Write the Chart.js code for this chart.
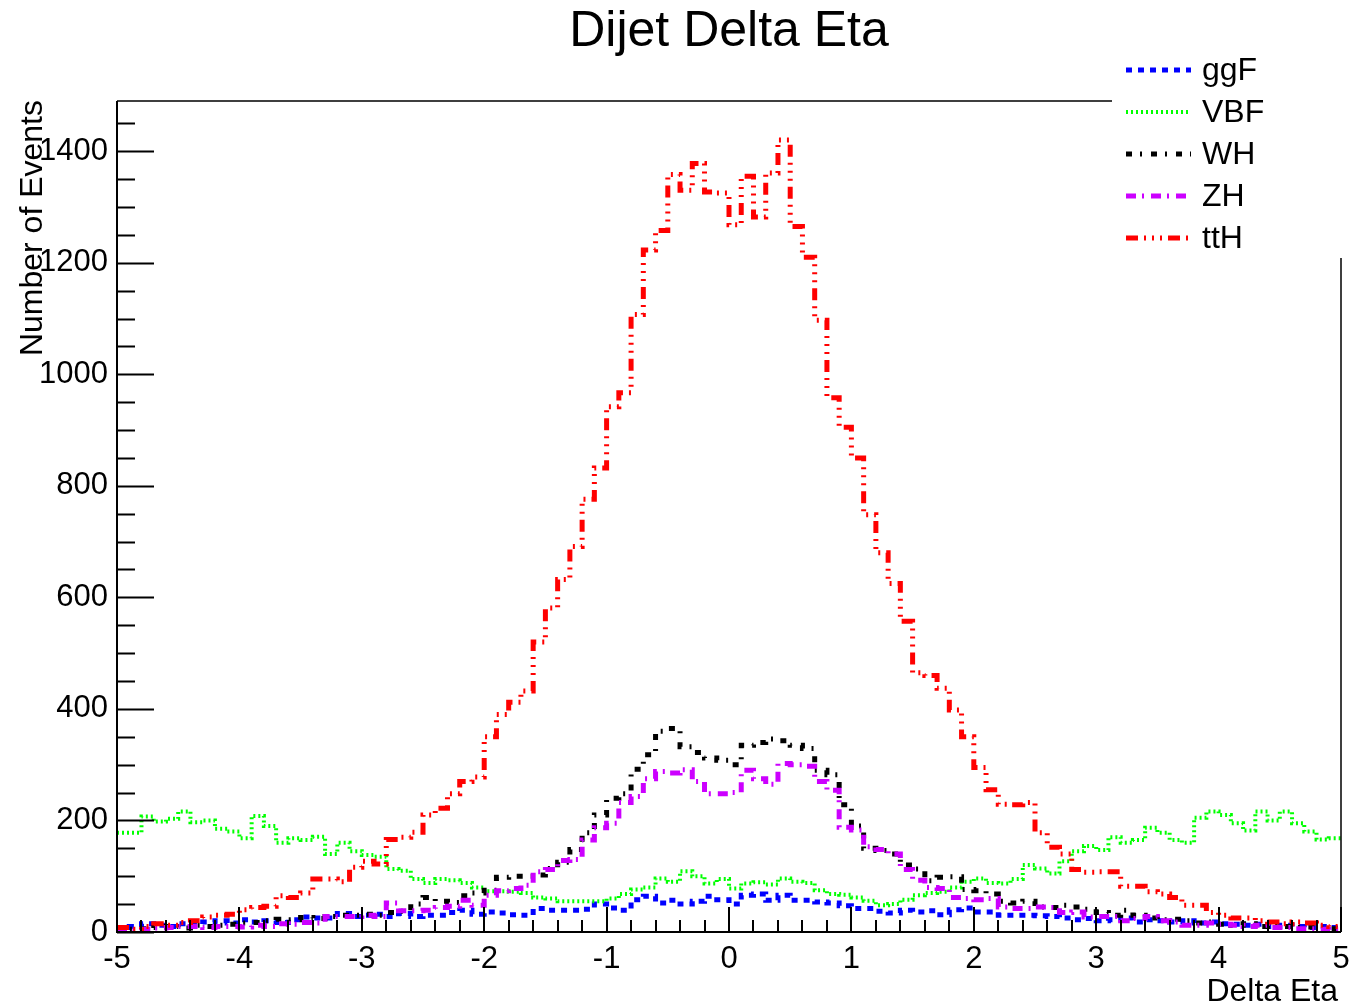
<!DOCTYPE html>
<html>
<head>
<meta charset="utf-8">
<title>Dijet Delta Eta</title>
<script src="https://cdn.jsdelivr.net/npm/chart.js@4.4.1/dist/chart.umd.min.js"></script>
<style>
  html, body { margin: 0; padding: 0; background: #ffffff; }
  #wrap { width: 1355px; height: 1007px; position: relative; }
</style>
</head>
<body>
<div id="wrap"><canvas id="c" width="1355" height="1007"></canvas></div>
<script>
// Histogram binning: 100 bins of Delta Eta from -5 to 5
const nBins = 100;
const xMin = -5;
const xMax = 5;

// Series names as shown in the legend
const seriesNames = ['ggF', 'VBF', 'WH', 'ZH', 'ttH'];

// Bin contents (Number of Events), one value per bin from left to right
const ggF = [
  8, 10, 15, 12, 10, 15, 14, 18, 20, 16, 22, 18, 20, 17, 22, 27, 25, 25, 33, 28, 30, 32, 28, 33,
  28, 30, 30, 35, 39, 32, 36, 34, 31, 30, 42, 39, 39, 39, 41, 50, 43, 39, 58, 64, 52, 57, 50, 55, 64, 58,
  50, 66, 68, 57, 66, 57, 57, 54, 52, 47, 42, 42, 37, 34, 39, 36, 38, 31, 40, 43, 36, 36, 30, 30, 30, 29,
  28, 25, 22, 24, 20, 22, 25, 18, 22, 20, 18, 20, 16, 18, 15, 14, 12, 14, 10, 12, 10, 8, 10, 8
];
const VBF = [
  178, 178, 207, 198, 203, 216, 197, 200, 185, 180, 168, 208, 190, 160, 168, 165, 171, 140, 160, 145, 138, 135, 113, 110,
  95, 88, 95, 93, 88, 80, 73, 73, 72, 70, 62, 60, 55, 55, 55, 55, 60, 68, 76, 80, 96, 90, 109, 100, 87, 95,
  78, 87, 89, 85, 96, 90, 88, 75, 68, 67, 62, 56, 48, 50, 58, 66, 70, 72, 80, 90, 96, 88, 87, 95, 120, 114,
  105, 127, 145, 154, 147, 170, 160, 165, 187, 178, 165, 160, 205, 216, 210, 195, 182, 216, 200, 216, 195, 180, 166, 168
];
const WH = [
  3, 5, 6, 8, 10, 7, 12, 10, 12, 14, 16, 17, 20, 23, 22, 26, 24, 28, 30, 30, 32, 30, 35, 37,
  50, 62, 55, 53, 65, 70, 75, 98, 100, 100, 102, 114, 125, 148, 178, 210, 240, 248, 292, 318, 360, 365, 332, 322, 312, 308,
  300, 335, 340, 346, 343, 335, 329, 290, 282, 228, 190, 150, 146, 140, 120, 113, 92, 98, 99, 76, 74, 68, 55, 52, 55, 45,
  44, 48, 45, 41, 35, 30, 39, 30, 25, 22, 23, 20, 16, 18, 14, 12, 15, 10, 12, 10, 8, 9, 7, 6
];
const ZH = [
  2, 3, 5, 7, 8, 10, 10, 8, 10, 10, 9, 12, 10, 15, 14, 17, 16, 28, 28, 28, 30, 28, 52, 38,
  38, 39, 44, 46, 57, 48, 66, 74, 78, 84, 108, 112, 128, 130, 165, 187, 195, 232, 243, 275, 288, 285, 291, 270, 248, 248,
  250, 290, 275, 265, 302, 300, 297, 270, 254, 188, 183, 153, 148, 140, 112, 93, 80, 78, 62, 60, 58, 60, 45, 42, 42, 45,
  44, 35, 36, 27, 28, 28, 20, 24, 28, 20, 18, 12, 12, 16, 14, 12, 10, 12, 8, 8, 6, 6, 5, 4
];
const ttH = [
  8, 5, 10, 15, 12, 17, 20, 27, 30, 32,
  40, 44, 46, 65, 62, 70, 95, 95, 90, 116,
  127, 122, 166, 170, 179, 210, 222, 248, 270, 278,
  350, 390, 412, 432, 520, 581, 632, 691, 776, 832,
  942, 967, 1107, 1223, 1258, 1358, 1330, 1378, 1327, 1325,
  1268, 1355, 1282, 1361, 1420, 1265, 1210, 1097, 958, 905,
  850, 748, 680, 625, 557, 465, 460, 437, 398, 350,
  295, 255, 229, 228, 232, 178, 152, 140, 112, 107,
  108, 108, 82, 82, 72, 68, 62, 48, 48, 35,
  30, 25, 25, 20, 18, 15, 18, 16, 12, 10
];

// Axis ranges and tick labels
const yMax = 1490;
const yTickLabels = [0, 200, 400, 600, 800, 1000, 1200, 1400];
const xTickLabels = [-5, -4, -3, -2, -1, 0, 1, 2, 3, 4, 5];

// Turn bin contents into step points at the bin low edges, closing at the upper edge
function histPoints(values) {
  const w = (xMax - xMin) / nBins;
  const pts = values.map((v, i) => ({ x: xMin + i * w, y: v }));
  pts.push({ x: xMax, y: values[values.length - 1] });
  return pts;
}

const FONT = '"Liberation Sans", Arial, Helvetica, sans-serif';

const styles = {
  ggF: { color: '#0000ff', dash: [6, 6], width: 5 },
  VBF: { color: '#00ff00', dash: [2, 3], width: 4 },
  WH:  { color: '#000000', dash: [6, 8, 2, 9], width: 5 },
  ZH:  { color: '#cc00ff', dash: [10, 6, 2, 7], width: 5 },
  ttH: { color: '#ff0000', dash: [12, 6, 2, 6, 2, 6, 2, 6], width: 5 }
};
const seriesValues = { ggF, VBF, WH, ZH, ttH };
const drawOrder = { ggF: 4, VBF: 3, WH: 2, ZH: 1, ttH: 0 };

const datasets = seriesNames.map(name => ({
  label: name,
  data: histPoints(seriesValues[name]),
  // each bin value is held from its low edge to the next edge
  stepped: 'before',
  borderColor: styles[name].color,
  backgroundColor: styles[name].color,
  borderWidth: styles[name].width,
  borderDash: styles[name].dash,
  borderCapStyle: 'butt',
  borderJoinStyle: 'miter',
  pointRadius: 0,
  pointHoverRadius: 0,
  fill: false,
  tension: 0,
  order: drawOrder[name]
}));

// Frame, inward ticks, legend box and titles in the ROOT canvas style
const rootStyle = {
  id: 'rootStyle',
  afterDraw(chart) {
    const ctx = chart.ctx;
    const xs = chart.scales.x, ys = chart.scales.y;
    const area = chart.chartArea;
    const L = area.left, R = area.right, T = area.top, B = area.bottom;
    const legend = { left: 1112, top: 50, right: 1355, bottom: 258 };

    ctx.save();
    ctx.strokeStyle = '#000';
    ctx.lineCap = 'butt';

    // frame
    ctx.lineWidth = 2;
    ctx.beginPath();
    ctx.moveTo(L, T); ctx.lineTo(L, B); ctx.lineTo(R, B);
    ctx.stroke();
    ctx.lineWidth = 1.5;
    ctx.beginPath();
    ctx.moveTo(L, T); ctx.lineTo(legend.left, T);
    ctx.moveTo(R, legend.bottom); ctx.lineTo(R, B);
    ctx.stroke();

    // y ticks: major every 200, minor every 50
    ctx.lineWidth = 2;
    ctx.beginPath();
    for (let v = 0; v <= yMax; v += 50) {
      const py = Math.round(ys.getPixelForValue(v)) + 0.5;
      const len = (v % 200 === 0) ? 37 : 18;
      ctx.moveTo(L, py); ctx.lineTo(L + len, py);
    }
    ctx.stroke();

    // x ticks: major every 1, minor every 0.2
    ctx.beginPath();
    for (let k = 0; k <= 50; k++) {
      const v = xMin + k * 0.2;
      const px = Math.round(xs.getPixelForValue(v));
      const len = (k % 5 === 0) ? 25 : 12;
      ctx.moveTo(px, B); ctx.lineTo(px, B - len);
    }
    ctx.stroke();

    // legend
    ctx.fillStyle = '#fff';
    ctx.fillRect(legend.left, legend.top, legend.right - legend.left, legend.bottom - legend.top);
    const rowY = [70, 112, 154, 196, 238];
    ctx.font = '32px ' + FONT;
    ctx.textBaseline = 'middle';
    ctx.textAlign = 'left';
    chart.data.datasets.forEach((ds, i) => {
      const y = rowY[i];
      ctx.save();
      ctx.strokeStyle = ds.borderColor;
      ctx.lineWidth = ds.borderWidth;
      ctx.setLineDash(ds.borderDash);
      ctx.beginPath();
      ctx.moveTo(1126, y); ctx.lineTo(1191, y);
      ctx.stroke();
      ctx.restore();
      ctx.fillStyle = '#000';
      ctx.fillText(ds.label, 1202, y + 1);
    });

    // titles
    ctx.fillStyle = '#000';
    ctx.textBaseline = 'alphabetic';
    ctx.textAlign = 'center';
    ctx.font = '50px ' + FONT;
    ctx.fillText('Dijet Delta Eta', (L + R) / 2, 46);

    ctx.font = '32px ' + FONT;
    ctx.textAlign = 'right';
    ctx.fillText('Delta Eta', 1338, 1001);

    ctx.save();
    ctx.translate(42, 100);
    ctx.rotate(-Math.PI / 2);
    ctx.textAlign = 'right';
    ctx.fillText('Number of Events', 0, 0);
    ctx.restore();

    ctx.restore();
  }
};

new Chart(document.getElementById('c'), {
  type: 'line',
  data: { datasets },
  options: {
    responsive: false,
    animation: false,
    devicePixelRatio: 1,
    layout: { padding: { top: 101, right: 14, left: 0, bottom: 0 } },
    plugins: { legend: { display: false }, tooltip: { enabled: false }, title: { display: false } },
    scales: {
      x: {
        type: 'linear',
        min: xMin,
        max: xMax,
        grid: { display: false, drawTicks: false },
        border: { display: false },
        afterFit(scale) { scale.height = 75; scale.paddingLeft = 0; scale.paddingRight = 0; },
        afterBuildTicks(scale) { scale.ticks = xTickLabels.map(v => ({ value: v })); },
        ticks: {
          color: '#000',
          font: { family: FONT, size: 31 },
          padding: 9,
          maxRotation: 0,
          autoSkip: false,
          callback: v => String(v)
        }
      },
      y: {
        type: 'linear',
        min: 0,
        max: yMax,
        grid: { display: false, drawTicks: false },
        border: { display: false },
        afterFit(scale) { scale.width = 117; scale.paddingTop = 0; scale.paddingBottom = 0; },
        afterBuildTicks(scale) { scale.ticks = yTickLabels.map(v => ({ value: v })); },
        ticks: {
          color: '#000',
          font: { family: FONT, size: 31 },
          padding: 9,
          callback: v => String(v)
        }
      }
    }
  },
  plugins: [rootStyle]
});
</script>
</body>
</html>
